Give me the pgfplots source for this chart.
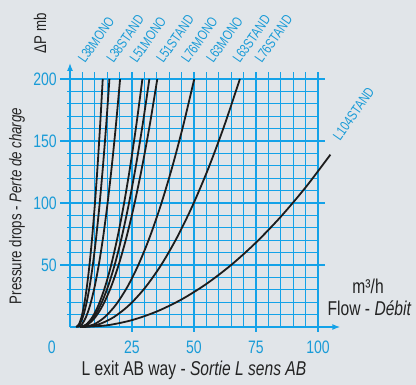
\documentclass[border=0pt]{standalone}
\usepackage{fontspec}
\setmainfont{Liberation Sans}[FakeStretch=0.78]
\usepackage{pgfplots}
\pgfplotsset{compat=1.18}
\usetikzlibrary{arrows.meta}
\definecolor{bg}{RGB}{225,229,233}
\definecolor{gridblue}{RGB}{20,162,232}
\definecolor{txtblue}{RGB}{25,155,215}
\definecolor{curve}{RGB}{28,28,28}
\definecolor{darktxt}{RGB}{35,35,35}
\begin{document}
\begin{tikzpicture}
\begin{axis}[
  set layers,
  x=2.48pt, y=1.24pt,
  xmin=0, xmax=100, ymin=0, ymax=200,
  clip=false,
  axis line style={draw=none},
  xtick={25,50,75,100}, ytick={50,100,150,200},
  major tick length=0pt, minor tick length=0pt,
  tick style={draw=none},
  /pgf/number format/assume math mode=true,
  ticklabel style={font=\fontsize{18}{18}\selectfont, text=txtblue, inner sep=0pt},
  xticklabel style={anchor=center, yshift=-20pt},
  yticklabel style={anchor=east, xshift=-13pt},
]
% background
\begin{pgfonlayer}{axis background}
\fill[bg] (axis cs:-28.226,-46.77) rectangle (axis cs:139.516,263.71);
\end{pgfonlayer}
% minor grid
\pgfplotsinvokeforeach{5,10,15,20,30,35,40,45,55,60,65,70,80,85,90,95}{
  \draw[gridblue, line width=1.2pt] (axis cs:#1,0) -- (axis cs:#1,205.6);
}
\pgfplotsinvokeforeach{10,20,30,40,60,70,80,90,110,120,130,140,160,170,180,190}{
  \draw[gridblue, line width=1.2pt] (axis cs:-1.2,#1) -- (axis cs:100,#1);
}
% major grid
\pgfplotsinvokeforeach{25,50,75,100}{
  \draw[gridblue, line width=1.5pt] (axis cs:#1,-4) -- (axis cs:#1,205.6);
}
\pgfplotsinvokeforeach{50,100,150,200}{
  \draw[gridblue, line width=1.5pt] (axis cs:-4,#1) -- (axis cs:102.8,#1);
}
% axes with arrows
\draw[gridblue, line width=1.5pt, -{Latex[length=8pt,width=6pt]}] (axis cs:0,0) -- (axis cs:0,213);
\draw[gridblue, line width=1.5pt, -{Latex[length=8pt,width=6pt]}] (axis cs:0,0) -- (axis cs:109,0);

% curves
\addplot[curve, line width=1.8pt, smooth] coordinates {(2.5,0) (3.57,2) (4.64,8) (5.71,18) (6.78,32) (7.85,50) (8.92,72) (9.99,98) (11.06,128) (12.13,162) (13.2,200)};
\addplot[curve, line width=1.8pt, smooth] coordinates {(2.5,0) (3.84,2) (5.18,8) (6.52,18) (7.86,32) (9.2,50) (10.54,72) (11.88,98) (13.22,128) (14.56,162) (15.9,200)};
\addplot[curve, line width=1.8pt, smooth] coordinates {(3,0) (4.72,2) (6.44,8) (8.16,18) (9.88,32) (11.6,50) (13.32,72) (15.04,98) (16.76,128) (18.48,162) (20.2,200)};
\addplot[curve, line width=1.8pt, smooth] coordinates {(4,0) (6.52,2) (9.04,8) (11.56,18) (14.08,32) (16.6,50) (19.12,72) (21.64,98) (24.16,128) (26.68,162) (29.2,200)};
\addplot[curve, line width=1.8pt, smooth] coordinates {(4,0) (6.8,2) (9.6,8) (12.4,18) (15.2,32) (18,50) (20.8,72) (23.6,98) (26.4,128) (29.2,162) (32,200)};
\addplot[curve, line width=1.8pt, smooth] coordinates {(4,0) (7.12,2) (10.24,8) (13.36,18) (16.48,32) (19.6,50) (22.72,72) (25.84,98) (28.96,128) (32.08,162) (35.2,200)};
\addplot[curve, line width=1.8pt, smooth] coordinates {(5,0) (9.51,2) (14.02,8) (18.53,18) (23.04,32) (27.55,50) (32.06,72) (36.57,98) (41.08,128) (45.59,162) (50.1,200)};
\addplot[curve, line width=1.8pt, smooth] coordinates {(5,0) (11.35,2) (17.7,8) (24.05,18) (30.4,32) (36.75,50) (43.1,72) (49.45,98) (55.8,128) (62.15,162) (68.5,200)};
\addplot[curve, line width=1.8pt, smooth] coordinates {(5,0) (15,1.39) (25,5.56) (35,12.51) (45,22.24) (55,34.75) (65,50.04) (75,68.11) (85,88.96) (95,112.59) (105,139)};

% curve labels
\tikzset{lbl/.style={rotate=55, anchor=base west, text=txtblue, inner sep=0pt, font=\fontsize{14}{14}\selectfont}}
\node[lbl] at (axis cs:6.05,212) {L38MONO};
\node[lbl] at (axis cs:17.5,212) {L38STAND};
\node[lbl] at (axis cs:26.9,212) {L51MONO};
\node[lbl] at (axis cs:37.6,212) {L51STAND};
\node[lbl] at (axis cs:47.7,212) {L76MONO};
\node[lbl] at (axis cs:57.8,212) {L63MONO};
\node[lbl] at (axis cs:68.5,212) {L63STAND};
\node[lbl] at (axis cs:77.3,212) {L76STAND};
\node[lbl] at (axis cs:108.9,149.4) {L104STAND};

% titles
\node[text=darktxt, font=\fontsize{20}{20}\selectfont] at (axis cs:50,-34.7) {L exit AB way - \textit{Sortie L sens AB}};
\node[text=darktxt, rotate=90, font=\fontsize{17}{17}\selectfont] at (axis cs:-21.4,97.6) {Pressure drops - \textit{Perte de charge}};
\node[text=darktxt, rotate=90, font=\fontsize{17}{17}\selectfont] at (axis cs:-12.1,237) {ΔP mb};
\node[text=darktxt, font=\fontsize{20}{20}\selectfont] at (axis cs:120.2,33) {m³/h};
\node[text=darktxt, font=\fontsize{20}{20}\selectfont] at (axis cs:120.8,14.9) {Flow - \textit{Débit}};
\node[text=txtblue, font=\fontsize{18}{18}\selectfont] at (axis cs:-7.3,-16.1) {0};
\end{axis}
\end{tikzpicture}
\end{document}
